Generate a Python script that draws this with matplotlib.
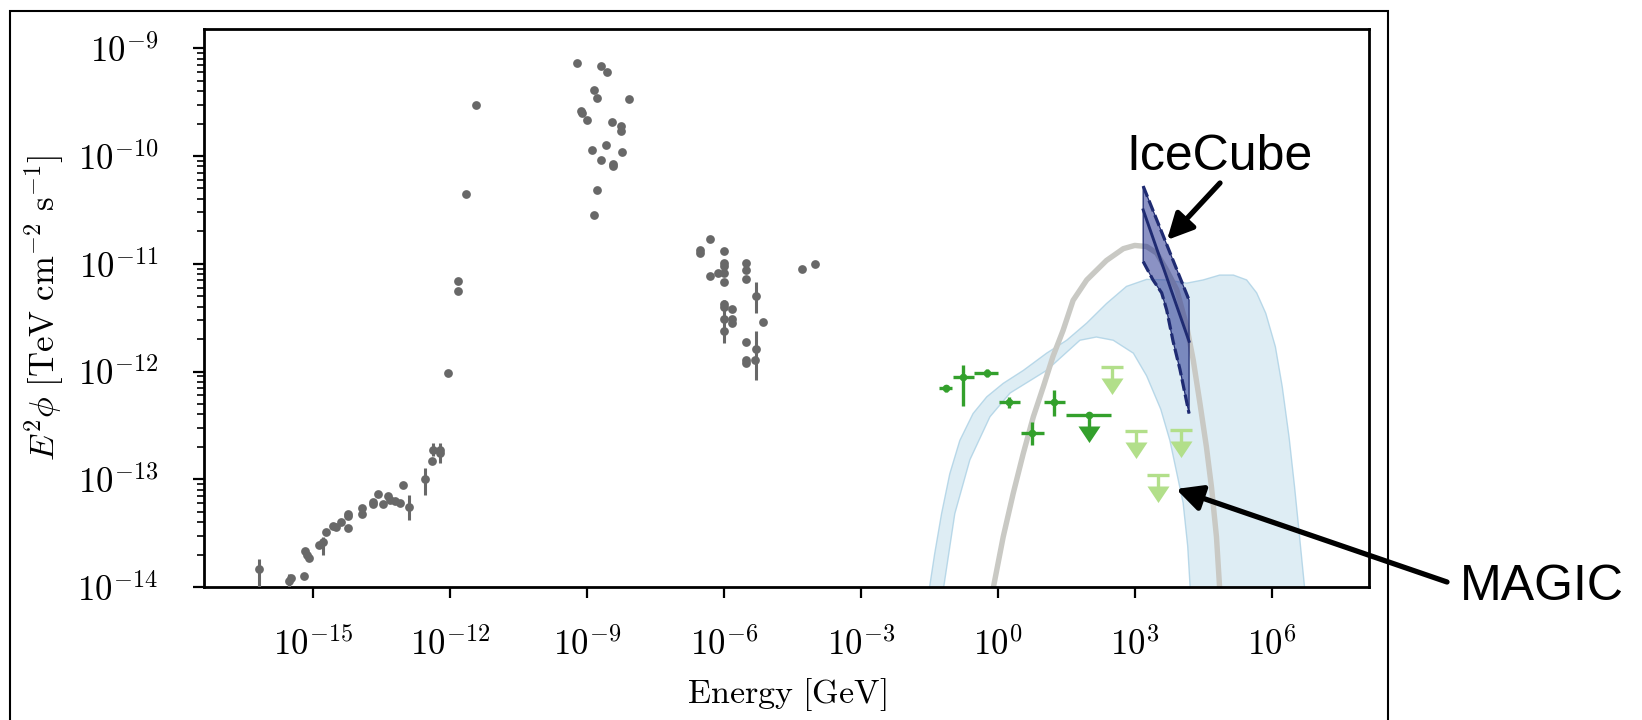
import numpy as np
import matplotlib
matplotlib.use('Agg')
import matplotlib.pyplot as plt
from matplotlib.transforms import offset_copy
from matplotlib.patches import Rectangle
from matplotlib.ticker import NullLocator, LogLocator, NullFormatter

plt.rcParams['mathtext.fontset'] = 'cm'
plt.rcParams['font.family'] = 'serif'
plt.rcParams['font.serif'] = ['cmr10', 'DejaVu Serif']

# ---------------- data (log10 values) ----------------
# broadband SED points without error bars (log10 E [GeV], log10 E^2 phi)
sed_logE = [-15.49, -15.20, -15.18, -15.14, -15.09, -14.88, -14.72, -14.56, -14.49, -14.40,
            -14.23, -14.23, -14.23, -13.94, -13.94, -13.70, -13.69, -13.58, -13.47, -13.36,
            -13.32, -13.21, -13.10, -13.04, -12.40, -12.22,
            -12.05, -11.83, -11.83, -11.65, -11.44,
            -9.23, -8.69, -8.57, -8.85, -8.78, -8.09, -9.13, -9.11, -9.00, -8.46,
            -8.25, -8.25, -8.59, -8.89, -8.23, -8.70, -8.44, -8.44, -8.78, -8.84,
            -6.30, -6.53, -6.53, -6.00, -6.00, -6.00, -6.31, -6.13, -6.00, -6.00,
            -5.52, -5.52, -5.52, -6.00, -6.00, -5.82, -6.00, -5.82, -5.82, -5.15,
            -5.52, -5.52, -5.52, -5.33, -4.30, -4.01]
sed_logF = [-13.92, -13.90, -13.665, -13.705, -13.73, -13.61, -13.49, -13.43, -13.44, -13.40,
            -13.34, -13.45, -13.32, -13.27, -13.32, -13.21, -13.23, -13.14, -13.23, -13.16,
            -13.19, -13.20, -13.22, -13.05, -12.83, -12.76,
            -12.01, -11.16, -11.25, -10.35, -9.53,
            -9.14, -9.16, -9.22, -9.39, -9.46, -9.47, -9.58, -9.60, -9.67, -9.68,
            -9.72, -9.77, -9.90, -9.94, -9.96, -10.04, -10.07, -10.09, -10.32, -10.55,
            -10.77, -10.87, -10.90, -10.88, -10.99, -11.02, -11.11, -11.09, -11.09, -11.17,
            -10.99, -11.06, -11.14, -11.37, -11.40, -11.42, -11.51, -11.51, -11.55, -11.54,
            -11.73, -11.89, -11.92, -11.89, -11.05, -11.00]

# SED points with vertical error bars
sede_logE = [-16.18, -15.53, -14.78, -12.90, -12.54, -12.38, -12.22, -5.31, -5.31, -6.00]
sede_logF = [-13.835, -13.94, -13.58, -13.26, -13.00, -12.73, -12.73, -11.30, -11.79, -11.62]
sede_lo = [-14.10, -14.02, -13.705, -13.38, -13.15, -12.785, -12.85, -11.46, -12.08, -11.74]
sede_hi = [-13.74, -13.88, -13.535, -13.15, -12.90, -12.66, -12.66, -11.17, -11.62, -11.335]

# Fermi-LAT like measured points (dark green)
lat_logE = [-1.15, -0.77, -0.25, 0.23, 0.74, 1.23]
lat_logF = [-12.157, -12.05, -12.01, -12.28, -12.57, -12.28]
lat_xlo = [-1.29, -1.00, -0.52, 0.02, 0.49, 1.00]
lat_xhi = [-1.02, -0.53, 0.00, 0.48, 1.00, 1.46]
lat_ylo = [-12.19, -12.32, -12.055, -12.34, -12.68, -12.41]
lat_yhi = [-12.125, -11.94, -11.98, -12.235, -12.47, -12.17]

# dark green upper limit
latul_logE = [1.99]
latul_logF = [-12.40]
latul_xlo = [1.48]
latul_xhi = [2.47]

# MAGIC upper limits (light green)
magic_logE = [2.50, 3.01, 4.00, 3.50]
magic_logF = [-11.956, -12.55, -12.54, -12.96]

# model band (light blue)
band_up_logE = [-1.52, -1.39, -1.24, -1.06, -0.84, -0.55, -0.25, 0.11, 0.55, 1.06, 1.50, 1.94,
                2.37, 2.81, 3.25, 3.69, 4.13, 4.49, 4.85, 5.15, 5.44, 5.66, 5.86, 6.07, 6.22,
                6.37, 6.49, 6.60, 6.72]
band_up_logF = [-14.05, -13.69, -13.32, -12.95, -12.64, -12.39, -12.235, -12.11, -11.99, -11.83,
                -11.71, -11.55, -11.37, -11.21, -11.145, -11.15, -11.18, -11.15, -11.105,
                -11.105, -11.15, -11.27, -11.46, -11.77, -12.14, -12.61, -13.07, -13.535, -14.05]
band_lo_logE = [-1.21, -0.95, -0.62, -0.18, 0.26, 1.06, 1.79, 2.15, 2.52, 2.96, 3.25, 3.56,
                3.76, 3.90, 4.05, 4.15, 4.21]
band_lo_logF = [-14.05, -13.32, -12.82, -12.42, -12.20, -11.99, -11.71, -11.68, -11.71, -11.83,
                -12.04, -12.35, -12.64, -12.92, -13.22, -13.62, -14.05]

# neutrino model curve (grey)
curve_logE = [-0.14, 0.11, 0.33, 0.55, 0.77, 0.99, 1.20, 1.42, 1.64, 1.94, 2.37, 2.74, 2.99,
              3.25, 3.47, 3.69, 3.91, 4.13, 4.27, 4.42, 4.56, 4.67, 4.78, 4.86]
curve_logF = [-14.08, -13.535, -13.13, -12.76, -12.42, -12.14, -11.86, -11.62, -11.34, -11.15,
              -10.97, -10.86, -10.83, -10.84, -10.90, -11.06, -11.24, -11.585, -11.89, -12.30,
              -12.70, -13.07, -13.535, -14.08]

# IceCube bow-tie
ic_logE = [3.175, 4.18]
ic_up_logF = [-10.279, -11.337]
ic_mid_logF = [-10.50, -11.72]
ic_lo_logE = [3.175, 3.39, 3.58, 3.69, 3.83, 3.98, 4.18]
ic_lo_logF = [-10.98, -11.15, -11.27, -11.43, -11.72, -11.98, -12.39]

xtick_exp = [-15, -12, -9, -6, -3, 0, 3, 6]
xtick_labels = [r'$10^{-15}$', r'$10^{-12}$', r'$10^{-9}$', r'$10^{-6}$', r'$10^{-3}$',
                r'$10^{0}$', r'$10^{3}$', r'$10^{6}$']
ytick_exp = [-14, -13, -12, -11, -10, -9]
ytick_labels = [r'$10^{-14}$', r'$10^{-13}$', r'$10^{-12}$', r'$10^{-11}$', r'$10^{-10}$',
                r'$10^{-9}$']

p10 = lambda v: np.power(10.0, np.asarray(v, dtype=float))

# ---------------- figure ----------------
W, H = 1642, 720
fig = plt.figure(figsize=(W / 100, H / 100), dpi=100)
ax = fig.add_axes([204 / W, 1 - 587 / H, (1369 - 204) / W, (587 - 29.3) / H])
ax.set_xscale('log')
ax.set_yscale('log')

# band
bx = np.concatenate([p10(band_up_logE), p10(band_lo_logE)[::-1]])
by = np.concatenate([p10(band_up_logF), p10(band_lo_logF)[::-1]])
ax.fill(bx, by, facecolor=(166/255, 206/255, 227/255, 0.36),
        edgecolor=(166/255, 206/255, 227/255, 0.75), lw=1.0, zorder=1)

# grey model curve
ax.plot(p10(curve_logE), p10(curve_logF), color='#c9c9c4', lw=3.9, zorder=2,
        solid_capstyle='butt')

# IceCube bowtie
navy = '#1f2b72'
px = np.concatenate([p10(ic_logE), p10(ic_lo_logE)[::-1]])
py = np.concatenate([p10(ic_up_logF), p10(ic_lo_logF)[::-1]])
ax.fill(px, py, facecolor='#18278a', alpha=0.5, edgecolor='none', zorder=3)
ax.fill(px, py, facecolor='none', edgecolor=navy, lw=0.9, zorder=3)
ax.plot(p10(ic_logE), p10(ic_up_logF), color=navy, lw=2.3, ls=(0, (3.6, 1.3)), zorder=3.1)
ax.plot(p10(ic_lo_logE), p10(ic_lo_logF), color=navy, lw=2.3, ls=(0, (3.6, 1.3)), zorder=3.1)
ax.plot(p10(ic_logE), p10(ic_mid_logF), color=navy, lw=2.1, zorder=3.1)

# grey SED points
grey = '#686868'
ax.plot(p10(sed_logE), p10(sed_logF), 'o', color=grey, ms=6.3, mew=0, zorder=4)
ey = p10(sede_logF)
ax.errorbar(p10(sede_logE), ey, yerr=[ey - p10(sede_lo), p10(sede_hi) - ey], fmt='o',
            color=grey, ms=6.3, mew=0, elinewidth=2.2, capsize=0, zorder=4)

# dark green points
dg = '#33a02c'
lx, ly = p10(lat_logE), p10(lat_logF)
ax.errorbar(lx, ly, xerr=[lx - p10(lat_xlo), p10(lat_xhi) - lx],
            yerr=[ly - p10(lat_ylo), p10(lat_yhi) - ly], fmt='o', color=dg, ms=5.5,
            mew=0, elinewidth=2.4, capsize=0, zorder=5)

tri = [(-1, 0), (1, 0), (0, -1.5), (-1, 0)]
tr_stem = offset_copy(ax.transData, fig=fig, x=0, y=-6, units='dots')
tr_tri = offset_copy(ax.transData, fig=fig, x=0, y=-11.5, units='dots')

ux, uy = p10(latul_logE), p10(latul_logF)
ax.errorbar(ux, uy, xerr=[ux - p10(latul_xlo), p10(latul_xhi) - ux], fmt='o', color=dg,
            ms=5.5, mew=0, elinewidth=2.4, capsize=0, zorder=5)
ax.plot(ux, uy, ls='none', marker='|', ms=8.6, mew=2.4, color=dg, transform=tr_stem, zorder=5)
ax.plot(ux, uy, ls='none', marker=tri, ms=23.8, mew=0, color=dg, transform=tr_tri, zorder=5)

# MAGIC upper limits
lg = '#b2df8a'
mx, my = p10(magic_logE), p10(magic_logF)
ax.plot(mx, my, ls='none', marker='_', ms=15.8, mew=2.4, color=lg, zorder=5)
ax.plot(mx, my, ls='none', marker='|', ms=8.6, mew=2.4, color=lg, transform=tr_stem, zorder=5)
ax.plot(mx, my, ls='none', marker=tri, ms=23.8, mew=0, color=lg, transform=tr_tri, zorder=5)

# axes styling
ax.set_xlim(10 ** -17.39, 10 ** 8.12)
ax.set_ylim(1e-14, 10 ** -8.824)
ax.set_xticks(p10(xtick_exp))
ax.set_xticklabels(xtick_labels)
ax.xaxis.set_minor_locator(NullLocator())
ax.set_yticks(p10(ytick_exp))
ax.set_yticklabels(ytick_labels)
ax.yaxis.set_minor_locator(LogLocator(base=10, subs=np.arange(2, 10), numticks=50))
ax.yaxis.set_minor_formatter(NullFormatter())
ax.tick_params(which='major', direction='out', length=8, width=1.6, labelsize=25)
ax.tick_params(which='minor', direction='out', length=5, width=1.2)
ax.tick_params(axis='x', which='major', pad=21)
ax.tick_params(axis='y', which='major', pad=25)
for s in ax.spines.values():
    s.set_linewidth(2.0)

ax.set_xlabel(r'$\mathrm{Energy\ [GeV]}$', fontsize=24.5, labelpad=10)
ax.set_ylabel(r'$E^2\phi\ [\mathrm{TeV\ cm^{-2}\ s^{-1}}]$', fontsize=25, labelpad=8)

# outer frame
fig.add_artist(Rectangle((10 / W, -0.1), (1388 - 10) / W, 1 - 10.7 / H + 0.1,
                         transform=fig.transFigure, fill=False, ec='black', lw=1.5,
                         clip_on=False))

# annotations
sans = ['Liberation Sans', 'Arial', 'DejaVu Sans']
fig.text(1219 / W, 1 - 170 / H, 'IceCube', ha='center', va='baseline', fontsize=36,
         family=sans)
fig.text(1460 / W, 1 - 600 / H, 'MAGIC', ha='left', va='baseline', fontsize=36,
         family=sans)
aprops = dict(arrowstyle='-|>,head_length=0.6,head_width=0.3', lw=3.8, color='black',
              mutation_scale=26, shrinkA=0, shrinkB=0)
ax.annotate('', xy=(1167 / W, 1 - 240 / H), xycoords='figure fraction',
            xytext=(1220 / W, 1 - 183 / H), textcoords='figure fraction',
            arrowprops=aprops, annotation_clip=False)
ax.annotate('', xy=(1176 / W, 1 - 489 / H), xycoords='figure fraction',
            xytext=(1447 / W, 1 - 582 / H), textcoords='figure fraction',
            arrowprops=aprops, annotation_clip=False)

fig.savefig('out.png', dpi=100)
